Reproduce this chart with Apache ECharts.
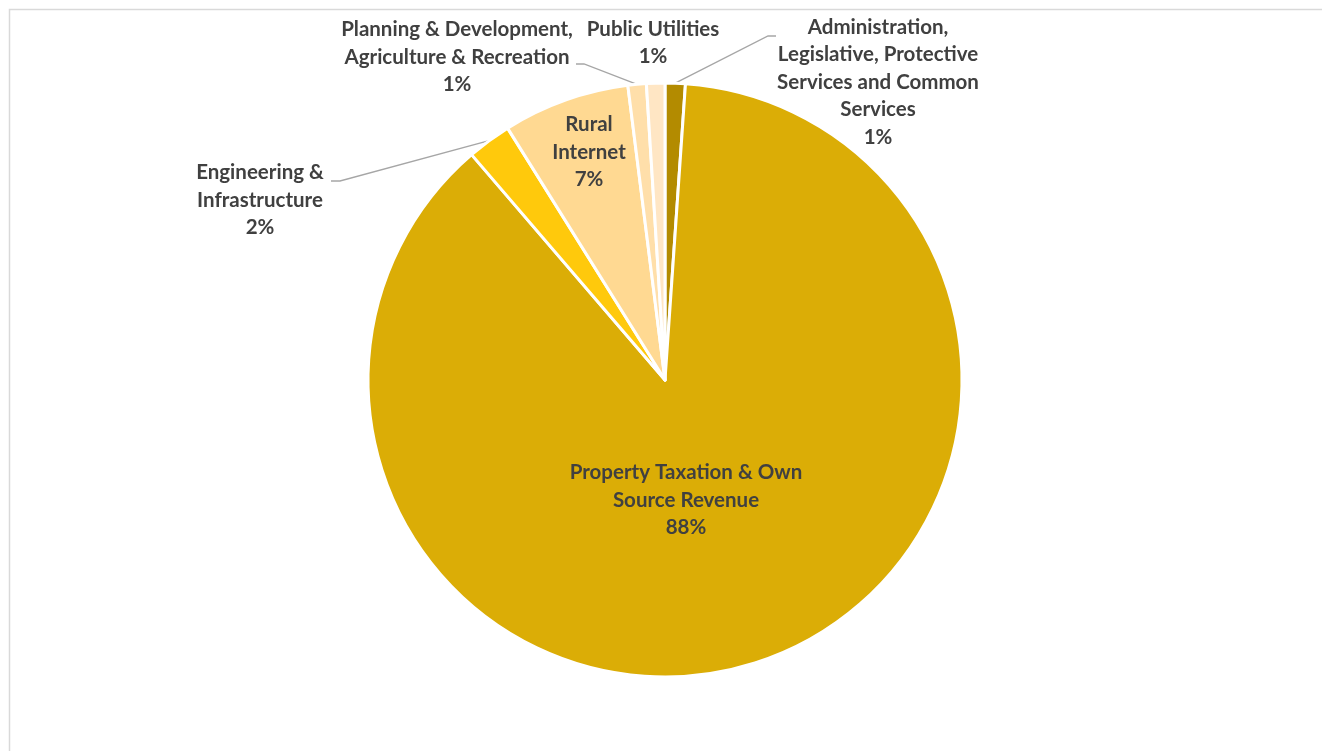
<!DOCTYPE html>
<html>
<head>
<meta charset="utf-8">
<script src="https://cdn.jsdelivr.net/npm/echarts@6/dist/echarts.min.js"></script>
<style>
html,body{margin:0;padding:0;background:#fff;}
#chart{width:1322px;height:751px;}
</style>
</head>
<body>
<div id="chart"></div>
<script>
// Slices in clockwise order starting at 12 o'clock
const categories = [
  "Administration,\nLegislative, Protective\nServices and Common\nServices",
  "Property Taxation & Own\nSource Revenue",
  "Engineering &\nInfrastructure",
  "Rural\nInternet",
  "Planning & Development,\nAgriculture & Recreation",
  "Public Utilities"
];
const values = [1.1, 87.7, 2.4, 6.9, 1.0, 1.0];
const colors = ["#B38B00", "#DBAD06", "#FFC90C", "#FFD992", "#FFDFAA", "#FFE6C4"];
const showLeader = [true, false, true, false, true, false];

// label centres and leader bends (layout, not data)
const labelPos = [
  [878, 82], [686, 500], [260, 200], [589, 152], [457, 57], [653, 43]
];
const leaderBends = [
  [[768, 36], [776, 36]],
  null,
  [[340, 181], [331, 181]],
  null,
  [[584, 64], [576, 64]],
  null
];

const chart = echarts.init(document.getElementById('chart'));
const total = values.reduce((a, b) => a + b, 0);

const option = {
  backgroundColor: '#ffffff',
  animation: false,
  graphic: [{
    type: 'rect',
    left: 7, top: 7,
    shape: { width: 1314, height: 780 },
    style: { fill: 'none', stroke: '#d9d9d9', lineWidth: 1.5 },
    silent: true
  }],
  series: [{
    type: 'pie',
    center: [665, 380],
    radius: [0, 297],
    startAngle: 90,
    clockwise: true,
    avoidLabelOverlap: false,
    itemStyle: { borderColor: '#ffffff', borderWidth: 3 },
    label: {
      show: true,
      position: 'outside',
      fontFamily: 'Lato',
      fontWeight: 'bold',
      fontSize: 20.5,
      lineHeight: 27.5,
      color: '#404040',
      align: 'center',
      formatter: p => p.name + '\n' + Math.round(p.value / total * 100) + '%'
    },
    labelLine: {
      show: true,
      length: 10,
      length2: 10,
      smooth: false,
      lineStyle: { color: '#A6A6A6', width: 1.3 }
    },
    labelLayout: params => {
      const i = params.dataIndex;
      const pos = labelPos[i];
      const out = { x: pos[0], y: pos[1], align: 'center', verticalAlign: 'middle' };
      if (leaderBends[i] && params.labelLinePoints) {
        out.labelLinePoints = [params.labelLinePoints[0], leaderBends[i][0], leaderBends[i][1]];
      }
      return out;
    },
    data: categories.map((c, i) => ({
      name: c,
      value: values[i],
      itemStyle: { color: colors[i] },
      labelLine: { show: showLeader[i] }
    }))
  }]
};
chart.setOption(option);
</script>
</body>
</html>
